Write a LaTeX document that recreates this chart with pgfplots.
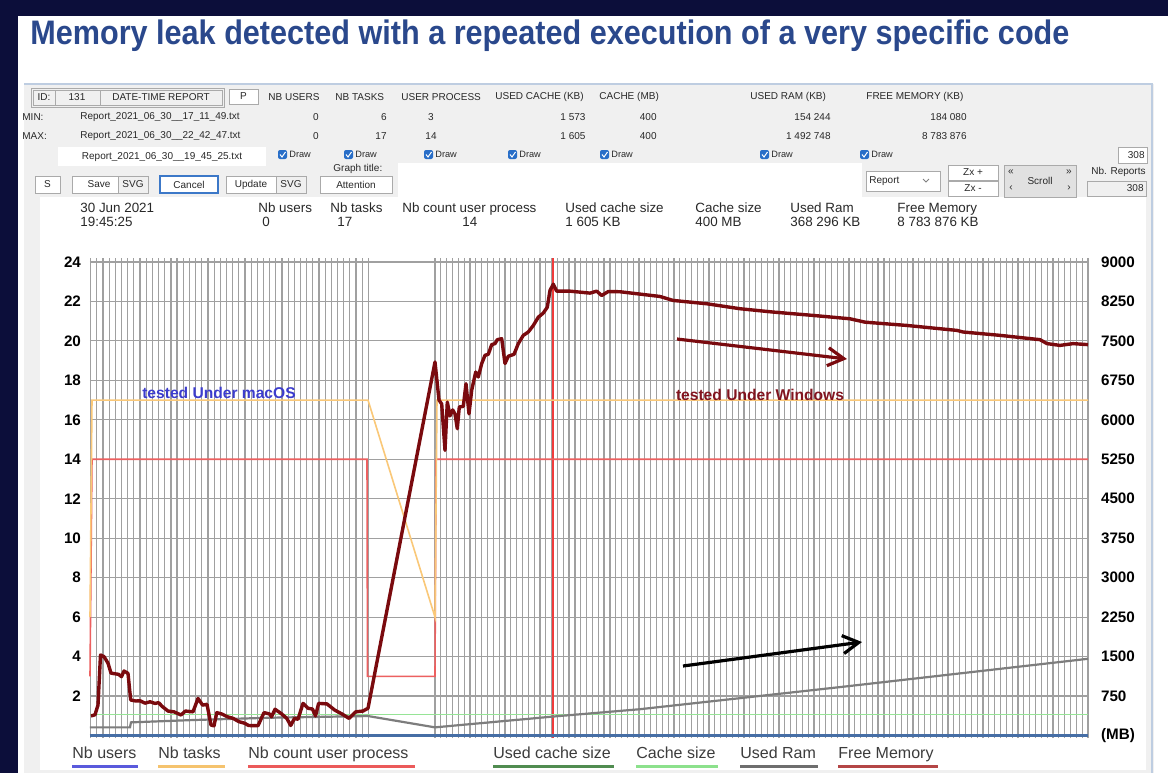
\documentclass[border=0pt]{standalone}
\usepackage{fontspec}
\setmainfont{Liberation Sans}
\usepackage{pgfplots}
\usepackage{pgfplotstable}
\pgfplotsset{compat=1.18}
\usetikzlibrary{arrows.meta}

\definecolor{navy}{RGB}{12,14,58}
\definecolor{titleblue}{RGB}{42,72,140}
\definecolor{freemem}{RGB}{122,10,14}
\definecolor{tasks}{RGB}{250,200,120}
\definecolor{procred}{RGB}{236,96,96}
\definecolor{cursorred}{RGB}{240,60,60}
\definecolor{cachegreen}{RGB}{150,228,150}
\definecolor{usedcache}{RGB}{70,130,70}
\definecolor{ramgray}{RGB}{125,125,125}
\definecolor{usersblue}{RGB}{70,110,165}
\definecolor{gridgray}{RGB}{160,160,160}
\definecolor{panelgray}{RGB}{240,240,240}
\definecolor{chkblue}{RGB}{40,110,200}
\definecolor{btnborder}{RGB}{170,170,170}
\definecolor{uitext}{RGB}{40,40,40}
\newcommand\fs[1]{\fontsize{#1}{#1}\selectfont}

% Free memory (MB) along the report axis
\pgfplotstableread{
x mb
91 371
95 394
98 578
100.5 1530
104 1500
108 1376
111 1185
118.5 1163
121.5 1118
124 1226
128 1181
130.7 675
135.7 656
140 660
145 615
150 641
155 611
158.6 623
162.5 548
168 465
174 450
181 390
185.4 465
193 450
198 705
202.6 578
207 593
211 199
214 184
216.8 435
221.8 409
227.5 356
233 326
239 263
244.7 233
248.6 190
258 186
264 435
269.6 409
271.5 356
275 499
281 420
286.8 326
290.7 190
294.5 326
298 308
303 611
308 518
312.5 503
315.5 371
318.6 611
327 600
334.7 484
342 409
349 326
355.7 450
363 465
368 518
435 7099
439 6375
441.7 6300
445 5419
447.3 6338
450 6075
452.7 6188
455 6113
457.3 5831
459.3 6244
463.3 6255
466 6686
469 6113
471.7 6563
475.7 6908
478.3 6814
481.7 7069
485 7226
488.3 7245
491.7 7429
495 7448
497.3 7523
501.7 7541
505 7069
508.3 7208
514 7245
518.3 7448
523.3 7605
528.3 7669
533.3 7793
538.3 7950
543.3 8029
547.3 8141
550 8460
553.3 8578
556.7 8445
570 8445
590 8408
596.7 8445
601.7 8363
608.3 8438
620 8434
640 8389
660 8344
673 8269
707 8205
740 8111
773 8048
813 7984
850 7920
865 7856
907 7793
957 7699
963 7669
1000 7605
1040 7523
1047 7448
1060 7414
1073 7448
1088 7429
}\freemem

\pgfplotstableread{
x mb
90 155
130 155
131 250
193 294
270 338
368 370
435 155
553 360
640 500
840 920
1088 1458
}\usedram

\pgfplotstableread{
x n
90 6
92 17
368 17
435 6
437 17
1088 17
}\nbtasks

\pgfplotstableread{
x n
90 3
92 14
367 14
367.5 3
435 3
436 14
1088 14
}\nbproc

\pgfplotstableread{
x mb
90 400
1088 400
}\cachesize

\pgfplotstableread{
x mb
90 1.6
1088 1.6
}\usedcache

\pgfplotstableread{
x n
90 0
1088 0
}\nbusers

\pgfplotstableread{
x n
553 -0.127
553 24.2
}\cursor

\begin{document}
\begin{tikzpicture}
\useasboundingbox (0,0) rectangle (584pt,-386.5pt);
\begin{scope}[x=0.5pt,y=-0.5pt]
  % slide background
  \fill[navy] (0,0) rectangle (1168,773);
  \fill[white] (18,16) rectangle (1168,773);
  \node[anchor=base west, text=titleblue, inner sep=0] at (30,44)
    {\fs{17}\bfseries\scalebox{0.9}[1]{Memory leak detected with a repeated execution of a very specific code}};
  % app panel
  \fill[panelgray] (24,84) rectangle (1154,773);
  \draw[color={rgb,255:red,190;green,205;blue,225}, line width=0.6pt] (24,84) -- (1152,84) -- (1152,773);
  \fill[white] (40,197) rectangle (1146,770);
  \fill[white] (398,163) rectangle (862,197);
  % row 1
  \draw[btnborder, line width=0.5pt, fill=panelgray] (31,88) rectangle (224,107);
  \draw[btnborder, line width=0.4pt] (33,90) rectangle (55,105) (55,90) rectangle (100,105) (100,90) rectangle (222,105);
  \begin{scope}[every node/.style={font=\fs{5}, text=uitext, inner sep=0}]
  \node at (44,97.5) {ID:};
  \node at (77,97.5) {131};
  \node at (161,97.5) {DATE-TIME REPORT};
  \draw[btnborder, fill=white, line width=0.4pt] (229,89) rectangle (258,104);
  \node at (243.5,96.5) {P};
  \node[anchor=west] at (268,97) {NB USERS};
  \node[anchor=west] at (335,97) {NB TASKS};
  \node[anchor=west] at (401,97) {USER PROCESS};
  \node[anchor=west] at (495,97) {USED CACHE (KB)};
  \node[anchor=west] at (599,97) {CACHE (MB)};
  \node[anchor=west] at (750,97) {USED RAM (KB)};
  \node[anchor=west] at (866,97) {FREE MEMORY (KB)};
  % row 2 and 3
  \node[anchor=west] at (22,117) {MIN:};
  \node[anchor=west] at (80,117) {Report\_2021\_06\_30\_\_17\_11\_49.txt};
  \node[anchor=east] at (319,117) {0};
  \node[anchor=east] at (387,117) {6};
  \node at (431,117) {3};
  \node at (573,117) {1 573};
  \node[anchor=east] at (657,117) {400};
  \node[anchor=east] at (831,117) {154 244};
  \node[anchor=east] at (967,117) {184 080};
  \node[anchor=west] at (22,136) {MAX:};
  \node[anchor=west] at (80,136) {Report\_2021\_06\_30\_\_22\_42\_47.txt};
  \node[anchor=east] at (319,136) {0};
  \node[anchor=east] at (387,136) {17};
  \node at (431,136) {14};
  \node at (573,136) {1 605};
  \node[anchor=east] at (657,136) {400};
  \node[anchor=east] at (831,136) {1 492 748};
  \node[anchor=east] at (967,136) {8 783 876};
  % row 4
  \fill[white] (58,147) rectangle (266,166);
  \node at (162,157) {Report\_2021\_06\_30\_\_19\_45\_25.txt};
  \foreach \cx in {278,344,424,508,600,760,860}{
    \fill[chkblue, rounded corners=1pt] (\cx,150) rectangle (\cx+9,159);
    \draw[white, line width=0.5pt] (\cx+2,154.5) -- (\cx+4,157) -- (\cx+7.5,152);
    \node[anchor=west, font=\fs{4.6}] at (\cx+11,154.5) {Draw};
  }
  \draw[btnborder, fill=white, line width=0.4pt] (1118,147) rectangle (1147,163);
  \node[anchor=east] at (1145,155.5) {308};
  \node[anchor=west] at (333,169) {Graph title:};
  % row 5 buttons
  \draw[btnborder, fill=white, line width=0.4pt] (35,176) rectangle (60,193);
  \node at (47.5,184.5) {S};
  \draw[btnborder, fill=white, line width=0.4pt] (72,176) rectangle (118,193);
  \node at (99,184.5) {Save};
  \draw[btnborder, fill=panelgray, line width=0.4pt] (118,176) rectangle (148,193);
  \node at (133,184.5) {SVG};
  \draw[color={rgb,255:red,60;green,120;blue,200}, fill=white, line width=0.8pt] (160,176) rectangle (218,193);
  \node at (189,184.5) {Cancel};
  \draw[btnborder, fill=white, line width=0.4pt] (226,176) rectangle (276,193);
  \node at (251,184.5) {Update};
  \draw[btnborder, fill=panelgray, line width=0.4pt] (276,176) rectangle (306,193);
  \node at (291,184.5) {SVG};
  \draw[btnborder, fill=white, line width=0.4pt] (320,176) rectangle (392,193);
  \node at (356,184.5) {Attention};
  \draw[btnborder, fill=white, line width=0.4pt] (866,171) rectangle (940,191);
  \node[anchor=west] at (869,181) {Report};
  \draw[gray, line width=0.4pt] (923,179) -- (926,182) -- (929,179);
  \draw[btnborder, fill=white, line width=0.4pt] (948,165) rectangle (998,180);
  \node at (973,172.5) {Zx +};
  \draw[btnborder, fill=white, line width=0.4pt] (948,181) rectangle (998,196);
  \node at (973,188.5) {Zx -};
  \draw[btnborder, fill={rgb,255:red,225;green,225;blue,225}, line width=0.4pt] (1004,165) rectangle (1076,197);
  \node at (1040,181) {Scroll};
  \node at (1011,172) {«};
  \node at (1011,188) {‹};
  \node at (1069,172) {»};
  \node at (1069,188) {›};
  \node[anchor=east] at (1146,172) {Nb. Reports};
  \draw[btnborder, fill=panelgray, line width=0.4pt] (1087,181) rectangle (1146,196);
  \node[anchor=east] at (1144,188.5) {308};
  \end{scope}
  % info row
  \begin{scope}[every node/.style={font=\fs{6.7}, text=uitext, inner sep=0, anchor=base west}]
  \node at (80,212) {30 Jun 2021};
  \node at (80,226) {19:45:25};
  \node at (258,212) {Nb users};
  \node at (262,226) {0};
  \node at (330,212) {Nb tasks};
  \node at (337,226) {17};
  \node at (402,212) {Nb count user process};
  \node at (462,226) {14};
  \node at (565,212) {Used cache size};
  \node at (565,226) {1 605 KB};
  \node at (695,212) {Cache size};
  \node at (695,226) {400 MB};
  \node at (790,212) {Used Ram};
  \node at (790,226) {368 296 KB};
  \node at (897,212) {Free Memory};
  \node at (897,226) {8 783 876 KB};
  \end{scope}
\end{scope}

% right axis (MB labels only)
\begin{axis}[
  at={(45pt,-369pt)}, anchor=south west, scale only axis,
  width=499pt, height=240pt,
  xmin=90, xmax=1088, ymin=-47.6, ymax=9075,
  axis y line*=right, axis x line=none,
  y axis line style={draw=none},
  major tick length=0pt,
  ytick={0,750,...,9000},
  yticklabels={(MB),750,1500,2250,3000,3750,4500,5250,6000,6750,7500,8250,9000},
  yticklabel style={font=\bfseries\fs{7.6}, anchor=west, xshift=3pt},
]
\end{axis}

% main axis
\begin{axis}[
  at={(45pt,-369pt)}, anchor=south west, scale only axis,
  width=499pt, height=240pt,
  xmin=90, xmax=1088, ymin=-0.127, ymax=24.2,
  axis line style={draw=none},
  major tick length=0pt,
  /pgf/number format/assume math mode=true,
  ytick={2,4,...,24},
  yticklabel style={font=\bfseries\fs{7.6}, anchor=east, xshift=-1pt},
  xtick={90.7,96.87,...,368.5},
  xticklabels={},
  extra x ticks={435,440.83,...,1088.5},
  extra x tick labels={},
  extra x tick style={grid=major, major tick length=0pt},
  xmajorgrids, ymajorgrids,
  grid style={gridgray, line width=0.6pt},
  clip=false,
]
\addplot[draw=cursorred, line width=0.8pt] table[x=x, y=n] {\cursor};
\addplot[cachegreen, line width=0.9pt] table[x=x, y expr=\thisrow{mb}/375] {\cachesize};
\addplot[usedcache, line width=1.2pt] table[x=x, y expr=\thisrow{mb}/375] {\usedcache};
\addplot[usersblue, line width=1.3pt] table[x=x, y=n] {\nbusers};
\addplot[procred, line width=0.8pt] table[x=x, y=n] {\nbproc};
\addplot[tasks, line width=0.8pt] table[x=x, y=n] {\nbtasks};
\addplot[ramgray, line width=1.1pt] table[x=x, y expr=\thisrow{mb}/375] {\usedram};
\addplot[freemem, line width=1.7pt, line join=round] table[x=x, y expr=\thisrow{mb}/375] {\freemem};
\end{axis}

\begin{scope}[x=0.5pt,y=-0.5pt]
  \node[font=\bfseries\fs{7.8}, text={rgb,255:red,60;green,60;blue,205}] at (219,393) {tested Under macOS};
  \node[font=\bfseries\fs{7.8}, text={rgb,255:red,130;green,20;blue,30}] at (760,395) {tested Under Windows};
  \draw[freemem, line width=1.6pt, -{Straight Barb[length=8pt, width=9pt, line width=1.6pt]}] (677,339) -- (847,359);
  \draw[black, line width=1.6pt, -{Straight Barb[length=8pt, width=9pt, line width=1.6pt]}] (683,666) -- (862,642);
  % legend
  \begin{scope}[every node/.style={font=\fs{8}, text={rgb,255:red,60;green,60;blue,60}, inner sep=0, anchor=base west}]
  \node at (72,758) {Nb users};
  \node at (158,758) {Nb tasks};
  \node at (248,758) {Nb count user process};
  \node at (493,758) {Used cache size};
  \node at (636,758) {Cache size};
  \node at (740,758) {Used Ram};
  \node at (838,758) {Free Memory};
  \end{scope}
  \draw[line width=1.5pt, color={rgb,255:red,90;green,90;blue,220}] (72,766) -- (138,766);
  \draw[line width=1.5pt, color={rgb,255:red,245;green,195;blue,110}] (158,766) -- (225,766);
  \draw[line width=1.5pt, color={rgb,255:red,235;green,90;blue,90}] (248,766) -- (415,766);
  \draw[line width=1.5pt, color={rgb,255:red,80;green,140;blue,80}] (493,766) -- (614,766);
  \draw[line width=1.5pt, color={rgb,255:red,140;green,225;blue,140}] (636,766) -- (718,766);
  \draw[line width=1.5pt, color={rgb,255:red,110;green,110;blue,110}] (740,766) -- (818,766);
  \draw[line width=1.5pt, color={rgb,255:red,180;green,70;blue,70}] (838,766) -- (938,766);
\end{scope}
\end{tikzpicture}
\end{document}
